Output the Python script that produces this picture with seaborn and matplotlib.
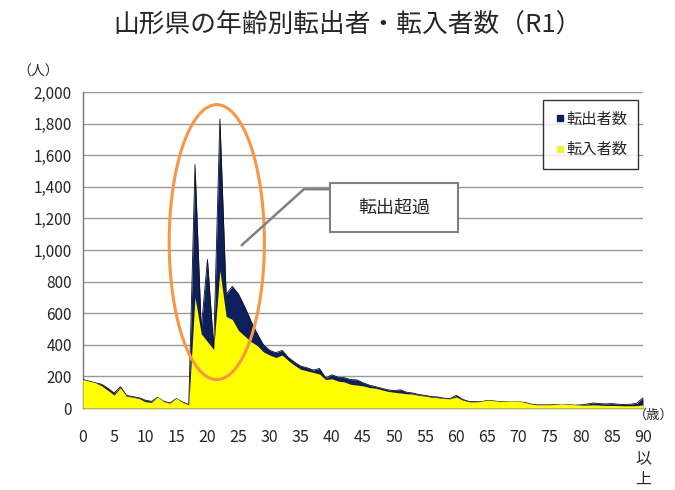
import numpy as np
import pandas as pd
import matplotlib
matplotlib.use("Agg")
import matplotlib.pyplot as plt
from matplotlib.patches import Ellipse, Rectangle
from matplotlib.lines import Line2D
import seaborn as sns

ages = list(range(0, 91))
out_counts = [180, 170, 160, 150, 125, 95, 135, 80, 72, 65,
              50, 42, 68, 42, 32, 60, 38, 22, 1540, 500,
              940, 380, 1830, 720, 770, 720, 640, 550, 470, 400,
              365, 350, 365, 320, 290, 265, 255, 240, 250, 190,
              210, 195, 192, 180, 178, 160, 145, 135, 125, 115,
              110, 115, 100, 95, 85, 80, 72, 70, 62, 60,
              80, 55, 42, 40, 40, 48, 45, 40, 42, 40,
              40, 35, 25, 20, 20, 20, 22, 18, 22, 18,
              20, 25, 32, 28, 26, 28, 24, 22, 24, 30,
              65]
in_counts = [180, 170, 160, 140, 112, 82, 128, 75, 68, 60,
             40, 35, 70, 40, 30, 62, 36, 20, 700, 470,
             420, 370, 870, 580, 560, 490, 455, 420, 395, 355,
             335, 320, 335, 300, 270, 245, 235, 225, 215, 180,
             185, 170, 165, 150, 145, 140, 130, 125, 115, 105,
             100, 95, 90, 88, 80, 75, 68, 65, 60, 58,
             70, 50, 40, 38, 42, 50, 46, 42, 44, 45,
             44, 35, 25, 20, 20, 20, 24, 22, 25, 20,
             18, 18, 20, 18, 16, 16, 15, 14, 14, 15,
             20]
x_ticks = list(range(0, 91, 5))
x_labels = [str(v) for v in range(0, 90, 5)] + ["90\n以\n上"]
y_ticks = list(range(0, 2001, 200))
y_labels = [f"{v:,}" for v in y_ticks]

df = pd.DataFrame({"age": ages, "out": out_counts, "in": in_counts})

sns.set_theme(style="white")
plt.rcParams["font.family"] = ["Noto Sans CJK JP", "DejaVu Sans"]

fig = plt.figure(figsize=(6.75, 4.9), dpi=100)
ax = fig.add_axes([83/675, 1-408/490, 560/675, 316/490])

navy = "#0d1f5c"
yellow = "#ffff00"

ax.fill_between(df["age"], df["out"], 0, color=navy, linewidth=0, zorder=2)
sns.lineplot(data=df, x="age", y="out", ax=ax, color="#111111", linewidth=0.6, zorder=3)
ax.fill_between(df["age"], df["in"], 0, color=yellow, linewidth=0, zorder=4)

ax.set_xlim(0, 90)
ax.set_ylim(0, 2000)
ax.set_yticks(y_ticks)
ax.set_yticklabels(y_labels, fontsize=11)
ax.set_xticks(x_ticks)
ax.set_xticklabels(x_labels, fontsize=11.5, linespacing=1.3, va="top")
ax.set_xlabel("")
ax.set_ylabel("")
ax.tick_params(axis="x", direction="out", length=5, color="#777777", pad=10)
ax.tick_params(axis="y", direction="out", length=4, color="#777777", pad=4)
ax.yaxis.grid(True, color="#999999", linewidth=1.0, zorder=0)
ax.set_axisbelow(True)
for s in ["top", "right"]:
    ax.spines[s].set_visible(False)
for s in ["left", "bottom"]:
    ax.spines[s].set_color("#777777")
    ax.spines[s].set_linewidth(1.0)

# legend
handles = [Line2D([], [], marker="s", linestyle="none", color=navy, markersize=4.5),
           Line2D([], [], marker="s", linestyle="none", color="#f2f23a", markersize=4.5)]
leg = ax.legend(handles, ["転出者数", "転入者数"], loc="upper right",
                bbox_to_anchor=(0.991, 0.975), fontsize=11, frameon=True,
                fancybox=False, edgecolor="black", handletextpad=0.0,
                handlelength=0.8, borderpad=0.7, labelspacing=0.9, borderaxespad=0)
leg.get_frame().set_linewidth(1.0)
leg.set_zorder(10)

# annotation ellipse
ell = Ellipse((21.5, 1050), width=15.3, height=1740, fill=False,
              edgecolor="#f79646", linewidth=2.2, zorder=8)
ax.add_patch(ell)

# callout line and box
ax.plot([25.5, 35.5, 39.5], [1030, 1385, 1385], color="#808080", linewidth=1.8, zorder=8)
fig.patches.append(Rectangle((330/675, 1-232/490), 128/675, 49/490, transform=fig.transFigure,
                             facecolor="white", edgecolor="#808080", linewidth=1.5, zorder=9))
fig.text(394/675, 1-207/490, "転出超過", fontsize=13, ha="center", va="center", zorder=10)

fig.text(348/675, 1-25/490, "山形県の年齢別転出者・転入者数（R1）", fontsize=18.5, ha="center", va="center")
fig.text(38/675, 1-72/490, "（人）", fontsize=10, ha="center", va="center")
fig.text(674/675, 1-415/490, "（歳）", fontsize=9.5, ha="right", va="center")

fig.savefig("out.png", dpi=100, facecolor="white")
